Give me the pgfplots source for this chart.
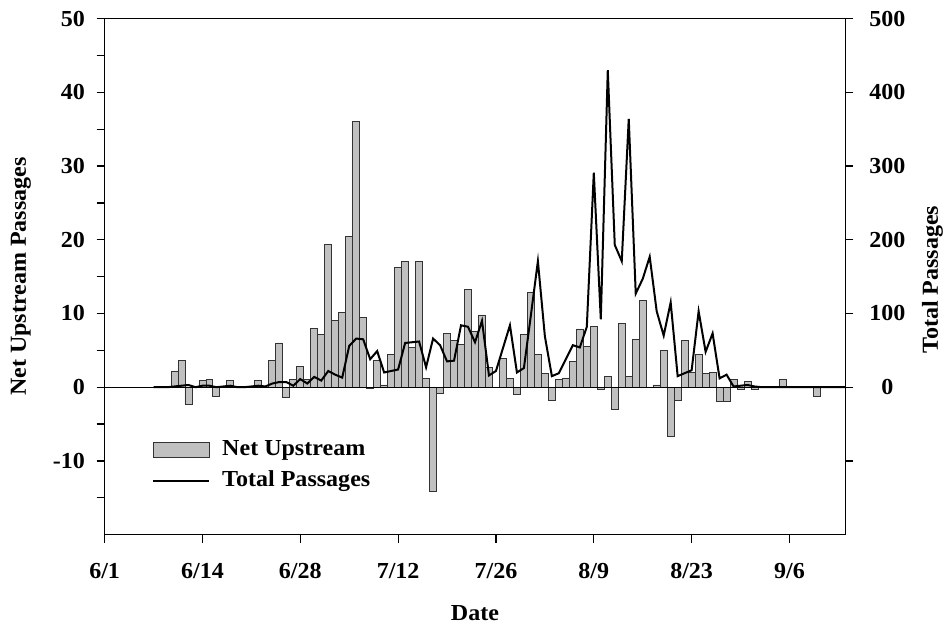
\documentclass[border=0pt]{standalone}
\usepackage{fontspec}
\setmainfont[FakeStretch=1.05]{Liberation Serif}
\usepackage{pgfplots}
\usepackage{pgfplotstable}
\pgfplotsset{compat=1.18}

% daily net upstream passages (day 0 = 6/1 tick)
\pgfplotstableread{
day net
10 2.2
11 3.65
12 -2.3
14 0.85
15 1.0
16 -1.2
18 0.85
22 0.85
24 3.6
25 6.0
26 -1.4
27 1.1
28 2.75
29 1.0
30 8.0
31 7.1
32 19.4
33 9.0
34 10.2
35 20.4
36 36.1
37 9.4
38 -0.2
39 3.6
40 0.3
41 4.5
42 16.2
43 17.0
44 5.4
45 17.0
46 1.2
47 -14.1
48 -0.8
49 7.3
50 6.3
51 5.8
52 13.2
53 7.6
54 9.8
55 2.7
57 3.9
58 1.2
59 -1.0
60 7.1
61 12.9
62 4.5
63 1.9
64 -1.85
65 1.1
66 1.25
67 3.5
68 7.9
69 5.5
70 8.2
71 -0.3
72 1.5
73 -3.0
74 8.6
75 1.5
76 6.5
77 11.8
78 -0.1
79 0.3
80 5.0
81 -6.7
82 -1.85
83 6.4
84 2.0
85 4.5
86 1.9
87 2.0
88 -1.9
89 -1.9
90 1.0
91 -0.3
92 0.8
93 -0.3
97 1.0
102 -1.2
}\netdata

% daily total passages
\pgfplotstableread{
day total
7 0
8 0
9 0
10 1
11 2
12 3
13 0
14 2
15 2
16 0
17 1
18 2
19 0
20 0
21 1
22 2
23 1
24 5
25 7
26 7
27 2
28 11
29 5
30 14
31 9
32 22
33 17
34 13
35 56
36 66
37 65
38 38
39 49
40 20
41 22
42 24
43 60
44 61
45 62
46 27
47 66
48 57
49 35
50 36
51 84
52 82
53 61
54 90
55 16
56 22
57 53
58 84
59 20
60 26
61 98
62 171
63 69
64 15
65 19
66 38
67 57
68 54
69 82
70 291
71 92
72 430
73 193
74 171
75 364
76 127
77 147
78 177
79 103
80 70
81 115
82 15
83 19
84 23
85 103
86 48
87 73
88 12
89 17
90 1
91 2
92 3
93 1
94 0
95 0
96 0
97 0
98 0
99 0
100 0
101 0
102 0
103 0
104 0
105 0
106 0
}\totaldata

\definecolor{bargray}{HTML}{C0C0C0}

\pgfplotsset{
  common/.style={
    scale only axis, width=370.65bp, height=258.15bp,
    xmin=0, xmax=106,
    tick align=outside,
    major tick length=4bp, minor tick length=4bp,
    every tick/.style={black, line width=0.6bp},
    axis line style={line width=0.75bp},
    /pgf/number format/assume math mode=true,
    ticklabel style={font=\bfseries\fontsize{11.5}{13}\selectfont},
    label style={font=\bfseries\fontsize{11.5}{13}\selectfont},
  },
  barlegend/.style={legend image code/.code={\draw[##1] (0bp,-3.75bp) rectangle (28bp,3.75bp);}},
  linelegend/.style={legend image code/.code={\draw[##1] (0bp,0bp) -- (28bp,0bp);}},
}

\begin{document}
\begin{tikzpicture}
\useasboundingbox (-52.35bp,-46bp) rectangle (423bp,267.5bp);
\begin{axis}[common,
  ymin=-20, ymax=50,
  ytick={-10,0,...,50}, minor ytick={-15,-5,...,45},
  ytick pos=left, xtick pos=bottom,
  yticklabel style={xshift=-2.3bp},
  xtick={0,14,...,98},
  xticklabels={6/1,6/14,6/28,7/12,7/26,8/9,8/23,9/6},
  xticklabel style={yshift=-7bp},
  xlabel={Date},
  xlabel style={at={(axis description cs:0.5,-0.153)}, anchor=center},
  ylabel={Net Upstream Passages},
  ylabel style={at={(axis description cs:-0.113,0.5)}, anchor=center},
]
\addplot[ybar, bar width=1, fill=bargray, draw=black!80, line width=0.45bp]
  table[x=day, y=net] {\netdata};
\addplot[black, line width=0.7bp] coordinates {(0,0) (106,0)};
\end{axis}
\begin{axis}[common,
  ymin=-200, ymax=500,
  axis y line*=right, axis x line=none,
  ytick={-100,0,...,500},
  yticklabels={,0,100,200,300,400,500},
  yticklabel style={anchor=center, xshift=17bp},
  ylabel={Total Passages},
  ylabel style={at={(axis description cs:1.1174,0.494)}, anchor=center},
  legend style={at={(axis description cs:0.0638,0.1341)}, anchor=west,
    draw=none, fill=none, inner sep=0pt, row sep=4.55bp,
    font=\bfseries\fontsize{11.5}{13}\selectfont,
    nodes={inner sep=0pt, text height=8.5bp, text depth=2.7bp},
    column sep=6bp},
  legend cell align=left,
]
\addlegendimage{barlegend, fill=bargray, draw=black!80, line width=0.45bp}
\addlegendentry{Net Upstream}
\addplot[black, line width=1bp, linelegend]
  table[x=day, y=total] {\totaldata};
\addlegendentry{Total Passages}
\end{axis}
\end{tikzpicture}
\end{document}
